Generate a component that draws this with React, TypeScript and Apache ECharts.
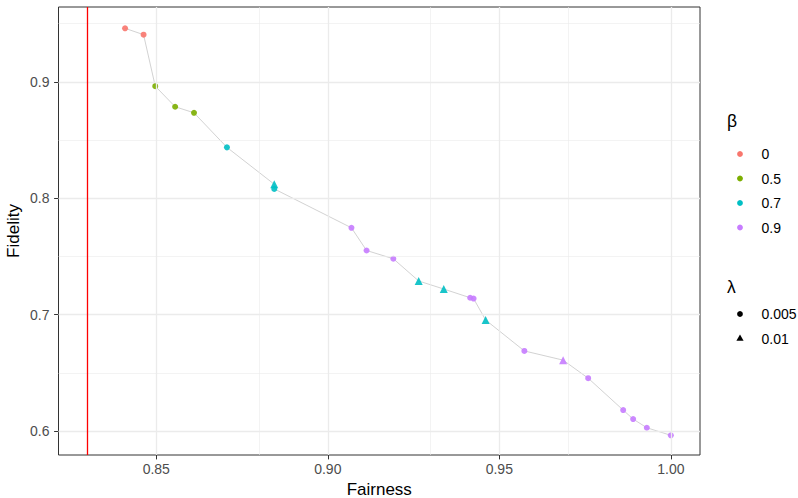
import React, { useEffect, useRef } from "react";
import * as echarts from "echarts";

// ---- data ----
const fairness = [
  0.8409, 0.8463, 0.8497, 0.8555, 0.861, 0.8706, 0.8844, 0.8844, 0.9069, 0.9113,
  0.9191, 0.9265, 0.9338, 0.9415, 0.9425, 0.946, 0.9573, 0.9686, 0.9759, 0.9861,
  0.989, 0.993, 1.0,
];
const fidelity = [
  0.946, 0.9405, 0.8963, 0.8786, 0.8734, 0.8437, 0.812, 0.808, 0.7746, 0.7551,
  0.748, 0.7289, 0.722, 0.7145, 0.7138, 0.6954, 0.6688, 0.6609, 0.6454, 0.618,
  0.6103, 0.6028, 0.5963,
];
const beta = [
  "0", "0", "0.5", "0.5", "0.5", "0.7", "0.7", "0.7", "0.9", "0.9",
  "0.9", "0.7", "0.7", "0.9", "0.9", "0.7", "0.9", "0.9", "0.9", "0.9",
  "0.9", "0.9", "0.9",
];
const lambda = [
  "0.005", "0.005", "0.005", "0.005", "0.005", "0.005", "0.01", "0.005", "0.005", "0.005",
  "0.005", "0.01", "0.01", "0.005", "0.005", "0.01", "0.005", "0.01", "0.005", "0.005",
  "0.005", "0.005", "0.005",
];

const betaLevels = ["0", "0.5", "0.7", "0.9"];
const betaColors = ["#F8766D", "#7CAE00", "#00BFC4", "#C77CFF"];
const lambdaLevels = ["0.005", "0.01"];
const lambdaSymbols = ["circle", "triangle"];

const xTicks = [0.85, 0.9, 0.95, 1.0];
const yTicks = [0.6, 0.7, 0.8, 0.9];
const xMinor = [0.825, 0.875, 0.925, 0.975];
const yMinor = [0.65, 0.75, 0.85, 0.95];
const xLimits = [0.8215, 1.0085];
const yLimits = [0.5794, 0.9643];
const referenceFairness = 0.83;

export default function App() {
  const ref = useRef<HTMLDivElement>(null);

  useEffect(() => {
    if (!ref.current) return;
    const chart = echarts.init(ref.current, null, { renderer: "svg" });
    const font = "Liberation Sans, Arial, sans-serif";

    const order = fairness.map((_, i) => i).sort((a, b) => fairness[a] - fairness[b]);
    const lineData = order.map((i) => [fairness[i], fidelity[i]]);

    const pointSeries: any[] = [];
    betaLevels.forEach((b, bi) => {
      lambdaLevels.forEach((l, li) => {
        const data: number[][] = [];
        fairness.forEach((f, i) => {
          if (beta[i] === b && lambda[i] === l) data.push([f, fidelity[i]]);
        });
        if (data.length) {
          pointSeries.push({
            type: "scatter",
            data,
            symbol: lambdaSymbols[li],
            symbolSize: li === 0 ? 6 : 8,
            itemStyle: { color: betaColors[bi], opacity: 0.9 },
            z: 4,
            silent: true,
          });
        }
      });
    });

    const gridLines = [
      ...xMinor.map((v) => ({ xAxis: v, lineStyle: { width: 0.6 } })),
      ...yMinor.map((v) => ({ yAxis: v, lineStyle: { width: 0.6 } })),
      ...xTicks.map((v) => ({ xAxis: v, lineStyle: { width: 1.3 } })),
      ...yTicks.map((v) => ({ yAxis: v, lineStyle: { width: 1.3 } })),
    ];

    const legendX = 740;
    const graphics: any[] = [
      {
        type: "text",
        x: 13.5,
        y: 231,
        rotation: Math.PI / 2,
        style: {
          text: "Fidelity",
          font: `17px ${font}`,
          fill: "#000",
          align: "center",
          verticalAlign: "middle",
        },
      },
      { type: "text", left: 727, top: 112, style: { text: "β", font: `17.5px ${font}`, fill: "#000" } },
      ...betaLevels.flatMap((b, i) => [
        { type: "circle", shape: { cx: legendX, cy: 154 + i * 24.5, r: 2.9 }, style: { fill: betaColors[i] } },
        {
          type: "text",
          x: 761.5,
          y: 154 + i * 24.5,
          style: { text: b, font: `14px ${font}`, fill: "#000", verticalAlign: "middle" },
        },
      ]),
      { type: "text", left: 727, top: 278, style: { text: "λ", font: `17.5px ${font}`, fill: "#000" } },
      { type: "circle", shape: { cx: legendX, cy: 314, r: 2.9 }, style: { fill: "#000" } },
      {
        type: "polygon",
        shape: { points: [[legendX, 334.5], [legendX - 3.6, 340.8], [legendX + 3.6, 340.8]] },
        style: { fill: "#000" },
      },
      ...lambdaLevels.map((l, i) => ({
        type: "text",
        x: 761.5,
        y: 314 + i * 24.5,
        style: { text: l, font: `14px ${font}`, fill: "#000", verticalAlign: "middle" },
      })),
    ];

    chart.setOption({
      animation: false,
      grid: {
        left: 58.5,
        right: 98,
        top: 7,
        bottom: 43,
        outerBoundsMode: "none",
        containLabel: false,
        show: true,
        borderColor: "#333333",
        borderWidth: 1,
        backgroundColor: "#fff",
      },
      xAxis: {
        type: "value",
        min: xLimits[0],
        max: xLimits[1],
        name: "Fairness",
        nameLocation: "middle",
        nameGap: 25,
        nameTextStyle: { fontFamily: font, fontSize: 17, color: "#000" },
        axisLine: { show: false },
        axisTick: { show: true, length: 4.4, customValues: xTicks, lineStyle: { color: "#333333" } },
        axisLabel: {
          customValues: xTicks,
          formatter: (v: number) => v.toFixed(2),
          fontFamily: font,
          fontSize: 14,
          color: "#4D4D4D",
          margin: 7,
        },
        splitLine: { show: false },
      },
      yAxis: {
        type: "value",
        min: yLimits[0],
        max: yLimits[1],
        axisLine: { show: false },
        axisTick: { show: true, length: 4.4, customValues: yTicks, lineStyle: { color: "#333333" } },
        axisLabel: {
          customValues: yTicks,
          formatter: (v: number) => v.toFixed(1),
          fontFamily: font,
          fontSize: 14,
          color: "#4D4D4D",
          margin: 9,
        },
        splitLine: { show: false },
      },
      graphic: graphics,
      series: [
        {
          type: "line",
          data: [],
          silent: true,
          z: 1,
          markLine: {
            silent: true,
            symbol: "none",
            label: { show: false },
            lineStyle: { color: "#EBEBEB", type: "solid" },
            data: gridLines,
          },
        },
        {
          type: "line",
          data: lineData,
          showSymbol: false,
          silent: true,
          lineStyle: { color: "#BEBEBE", width: 0.7 },
          z: 2,
        },
        {
          type: "line",
          data: [],
          silent: true,
          z: 3,
          color: "#FF0000",
          markLine: {
            silent: true,
            symbol: "none",
            label: { show: false },
            lineStyle: { color: "#FF0000", type: "solid", width: 1.3, opacity: 1 },
            emphasis: { disabled: true },
            data: [{ xAxis: referenceFairness }],
          },
        },
        ...pointSeries,
      ],
    });

    return () => chart.dispose();
  }, []);

  return <div ref={ref} style={{ width: 798, height: 498, position: "absolute", left: 0, top: 0 }} />;
}
